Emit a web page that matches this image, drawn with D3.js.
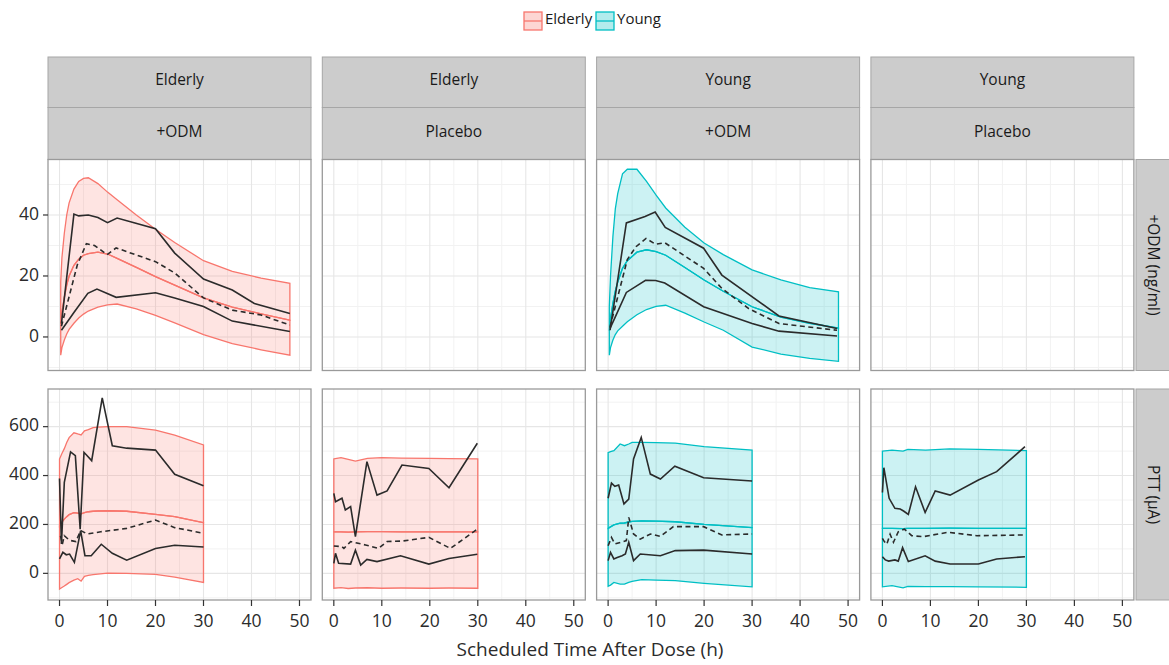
<!DOCTYPE html>
<html>
<head>
<meta charset="utf-8">
<script src="https://cdn.jsdelivr.net/npm/d3@7"></script>
<style>
  body { margin: 0; background: #fff; }
  text { font-family: "Open Sans", sans-serif; }
</style>
</head>
<body>
<svg width="1169" height="665"></svg>
<script>
// columns of the facet grid: group / treatment, rows: measured quantity
const groups = ['Elderly', 'Elderly', 'Young', 'Young'];
const treatments = ['+ODM', 'Placebo', '+ODM', 'Placebo'];
const rowLabels = ['+ODM (ng/ml)', 'PTT (\u00b5A)'];
const xTicks = [0, 10, 20, 30, 40, 50];
const yTicksTop = [0, 20, 40];
const yTicksBot = [0, 200, 400, 600];

// prediction bands: [time, lower, median, upper]
const elderlyOdmBand = [
  [0.25, -6, 4, 18], [0.5, -3.5, 8, 26], [1, -1, 13, 34], [1.5, 1, 17, 40], [2, 2.5, 20, 44],
  [3, 4.5, 23.5, 48.5], [4, 6.2, 25.5, 51], [5, 7.5, 26.8, 52], [6, 8.5, 27.3, 52.2],
  [8, 9.8, 27.8, 50.3], [10, 10.5, 27.2, 47.5], [12, 10.8, 25.8, 45], [16, 9.2, 22.8, 40],
  [20, 7.1, 19.8, 35.3], [24, 4.6, 17, 31], [30, 0.8, 12.8, 25], [36, -2.2, 9.8, 21.5],
  [42, -4.2, 7.6, 19.3], [48, -6, 5.5, 17.6]
];
const youngOdmBand = [
  [0.25, -6, 2, 10], [0.5, -3.5, 6, 20], [1, -1, 11, 33], [1.5, 0.8, 15, 42], [2, 2, 18, 47],
  [3, 3.5, 22.5, 53.5], [4, 5, 25, 55], [6, 7.3, 27.8, 55], [8, 9, 28.6, 51],
  [10, 10, 28, 46.5], [12, 10.4, 26.8, 42.3], [16, 7.8, 22.8, 36], [20, 4.9, 18.7, 30.8],
  [24, 2.2, 15, 27], [30, -3.3, 9.9, 22], [36, -5.6, 6.5, 18.7], [42, -7, 4.5, 16.2],
  [48, -8, 2.9, 14.8]
];
const elderlyOdmPttBand = [
  [0, -64, 195, 468], [0.5, -58, 210, 490], [1, -52, 222, 510], [1.5, -45, 232, 535],
  [2, -38, 240, 555], [3, -28, 248, 575], [3.8, -22, 246, 570], [4.5, -32, 243, 566],
  [5.2, -12, 248, 583], [6, -8, 252, 588], [7, -5, 254, 596], [8, -3, 255, 598],
  [10, 1, 256, 600], [14, 0, 254, 600], [20, -4, 241, 586], [24, -15, 232, 565], [30, -37, 207, 525]
];
const elderlyPlaPttBand = [
  [0, -61, 170, 468], [1.5, -58, 170, 473], [3, -62, 169, 466], [4.5, -60, 170, 459],
  [7, -59, 171, 470], [10, -61, 171, 473], [14, -60, 170, 471], [20, -61, 170, 470],
  [24, -60, 170, 469], [30, -61, 170, 468]
];
const youngOdmPttBand = [
  [0, -53, 184, 494], [0.5, -48, 190, 498], [1.2, -37, 198, 502], [2.5, -44, 205, 529],
  [3.4, -44, 206, 522], [4.3, -37, 210, 529], [5, -33, 213, 536], [7, -26, 215, 536],
  [10, -28, 214, 535], [14, -30, 211, 533], [20, -41, 200, 518], [30, -55, 187, 504]
];
const youngPlaPttBand = [
  [0, -55, 184, 500], [2, -50, 184, 504], [4.3, -59, 183, 500], [5.3, -53, 184, 507],
  [9, -54, 184, 504], [14, -54, 185, 509], [20, -55, 184, 507], [30, -57, 184, 502]
];

// observed percentiles: [time, value]
const elderlyOdmHi = [[0.4, 4.4], [3, 40.3], [4, 39.7], [6, 40], [8, 39.2], [10, 37.5], [12, 39],
  [20, 35.5], [24, 27.5], [30, 19], [36, 15.4], [40.6, 11], [48, 7.7]];
const elderlyOdmMed = [[0.4, 3.5], [3.7, 23.6], [5.6, 30.6], [7.3, 30], [9.9, 27], [11.8, 29.2],
  [20, 24.7], [24, 21], [30, 12.8], [36, 8.8], [42, 7.2], [48, 3.9]];
const elderlyOdmLo = [[0.4, 2.2], [3, 8], [5.9, 14.3], [7.8, 15.7], [11.8, 13], [20, 14.5],
  [24, 12.8], [30, 10], [36, 5.2], [48, 1.8]];

const youngOdmHi = [[0.4, 2.2], [3.8, 37.4], [7.7, 39.5], [9.8, 41], [11.9, 35.9], [19.9, 29.1],
  [23.7, 20.3], [35.6, 6.9], [47.7, 2.8]];
const youngOdmMed = [[0.4, 3.3], [4, 25.4], [5.8, 29.6], [7.9, 32.3], [9.9, 30.4], [11.8, 30.9],
  [19.9, 22.5], [23.7, 15.9], [29.3, 9.3], [35.6, 4.4], [47.7, 2.2]];
const youngOdmLo = [[0.4, 2.8], [1.5, 6.6], [3.8, 14.6], [7.8, 18.6], [9.9, 18.5], [11.8, 17.7],
  [19.9, 9.9], [30, 4.4], [35.6, 1.9], [47.7, 0.3]];

const elderlyOdmPttHi = [[0, 388], [0.4, 120], [1, 372], [2.3, 497], [3.3, 481], [4.3, 181],
  [5.1, 495], [6.7, 461], [8.9, 718], [11, 522], [14, 512], [20, 504], [24, 405], [30, 358]];
const elderlyOdmPttMed = [[0.2, 154], [0.6, 120], [1, 154], [1.8, 140], [2.4, 134], [3.4, 130],
  [4.4, 175], [5.8, 161], [8.6, 170], [14, 184], [20, 218], [24, 187], [30, 164]];
const elderlyOdmPttLo = [[0, 59], [0.7, 86], [1.4, 76], [2.1, 79], [3.1, 45], [4.4, 175], [5.3, 72],
  [6.6, 72], [8.7, 119], [11, 82], [14, 54], [20, 102], [24, 115], [30, 108]];

const elderlyPlaPttHi = [[0, 327], [0.35, 293], [1.7, 307], [2.4, 259], [3.5, 273], [4.5, 150],
  [6.9, 457], [9, 320], [11.1, 337], [14.2, 443], [19.8, 429], [24, 350], [29.9, 532]];
const elderlyPlaPttMed = [[0, 112], [1.7, 109], [2.1, 102], [3.5, 130], [6.6, 116], [9.3, 102],
  [11.1, 130], [14.2, 132], [19.8, 147], [24.3, 102], [29.9, 181]];
const elderlyPlaPttLo = [[0, 41], [0.35, 82], [1, 41], [3.5, 38], [4.5, 95], [5.6, 34], [6.9, 57],
  [9, 48], [13.9, 72], [19.8, 38], [24, 61], [29.9, 78]];

const youngOdmPttHi = [[0, 307], [0.7, 369], [1.4, 356], [2.2, 361], [3.3, 284], [4.3, 304],
  [5.3, 468], [6.9, 556], [8.8, 406], [10.9, 386], [13.9, 438], [19.9, 391], [30, 378]];
const youngOdmPttMed = [[0, 113], [0.7, 147], [1.4, 120], [2.6, 127], [3.8, 134], [4.3, 229],
  [5.3, 161], [6.7, 140], [8.8, 161], [10.9, 151], [13.6, 191], [19.9, 191], [23.7, 157], [30, 161]];
const youngOdmPttLo = [[0, 52], [0.5, 86], [1.2, 59], [1.9, 65], [2.9, 72], [3.6, 79], [4.3, 127],
  [5.3, 52], [6.7, 79], [10.9, 72], [14, 93], [19.9, 95], [30, 79]];

const youngPlaPttHi = [[0, 331], [0.3, 432], [1.4, 307], [2.6, 266], [3.7, 263], [4.4, 255],
  [5.4, 241], [6.9, 354], [8.9, 249], [11, 337], [14.1, 320], [20, 382], [23.8, 416], [29.7, 518]];
const youngPlaPttMed = [[0, 143], [0.4, 130], [0.9, 119], [1.6, 160], [2.3, 127], [3.3, 170],
  [4.6, 181], [6.1, 154], [8.5, 150], [13.7, 168], [19.7, 154], [29.7, 157]];
const youngPlaPttLo = [[0, 68], [0.6, 55], [1.3, 50], [2.6, 55], [3.3, 50], [4.2, 105], [5.4, 48],
  [8.9, 72], [11, 50], [14.1, 38], [20, 38], [23.8, 59], [29.7, 68]];

const panels = [
  { row: 0, col: 0, band: elderlyOdmBand, obs: [elderlyOdmHi, elderlyOdmMed, elderlyOdmLo] },
  { row: 0, col: 2, band: youngOdmBand, obs: [youngOdmHi, youngOdmMed, youngOdmLo] },
  { row: 1, col: 0, band: elderlyOdmPttBand, obs: [elderlyOdmPttHi, elderlyOdmPttMed, elderlyOdmPttLo] },
  { row: 1, col: 1, band: elderlyPlaPttBand, obs: [elderlyPlaPttHi, elderlyPlaPttMed, elderlyPlaPttLo] },
  { row: 1, col: 2, band: youngOdmPttBand, obs: [youngOdmPttHi, youngOdmPttMed, youngOdmPttLo] },
  { row: 1, col: 3, band: youngPlaPttBand, obs: [youngPlaPttHi, youngPlaPttMed, youngPlaPttLo] }
];

const svg = d3.select("svg");
const color = d3.scaleOrdinal().domain(['Elderly', 'Young']).range(['#f8766d', '#00bfc4']);

const colLeft = [48, 322.3, 596.6, 870.9], pw = 263;
const rowTop = [159.5, 389], ph = 211;

const x = d3.scaleLinear().domain([-2.4, 52.4]).range([0, pw]);
const y = [
  d3.scaleLinear().domain([-11, 58.2]).range([ph, 0]),
  d3.scaleLinear().domain([-109, 754]).range([ph, 0])
];
const yMinor = [[-10, 10, 30, 50], [-100, 100, 300, 500, 700]];
const yMajor = [yTicksTop, yTicksBot];
const xMinor = [5, 15, 25, 35, 45];

// strips on top
groups.forEach((g, c) => {
  [g, treatments[c]].forEach((label, k) => {
    const sy = k === 0 ? 57 : 107.5;
    svg.append('rect')
      .attr('x', colLeft[c]).attr('y', sy).attr('width', pw).attr('height', k === 0 ? 50.5 : 52)
      .attr('fill', '#cccccc').attr('stroke', '#a6a6a6').attr('stroke-width', 1);
    svg.append('text')
      .attr('x', colLeft[c] + pw / 2).attr('y', sy + (k === 0 ? 24 : 25))
      .attr('text-anchor', 'middle').attr('dominant-baseline', 'middle')
      .attr('font-size', 15.5).attr('fill', '#1a1a1a')
      .text(label);
  });
});

// strips on the right
rowLabels.forEach((label, r) => {
  svg.append('rect')
    .attr('x', 1136).attr('y', rowTop[r]).attr('width', 40).attr('height', ph)
    .attr('fill', '#cccccc').attr('stroke', '#a6a6a6');
  svg.append('text')
    .attr('transform', `translate(1152, ${rowTop[r] + ph / 2}) rotate(90)`)
    .attr('text-anchor', 'middle').attr('dominant-baseline', 'middle')
    .attr('font-size', 15.5).attr('fill', '#1a1a1a')
    .text(label);
});

// empty panels with grid
const cells = [];
[0, 1].forEach(r => colLeft.forEach((cx, c) => cells.push({ r, c })));

cells.forEach(({ r, c }) => {
  const g = svg.append('g').attr('transform', `translate(${colLeft[c]}, ${rowTop[r]})`);
  g.append('rect').attr('width', pw).attr('height', ph).attr('fill', '#fff');
  g.selectAll('.xmin').data(xMinor).enter().append('line')
    .attr('x1', d => x(d)).attr('x2', d => x(d)).attr('y1', 0).attr('y2', ph)
    .attr('stroke', '#f2f2f2').attr('stroke-width', 1);
  g.selectAll('.ymin').data(yMinor[r]).enter().append('line')
    .attr('x1', 0).attr('x2', pw).attr('y1', d => y[r](d)).attr('y2', d => y[r](d))
    .attr('stroke', '#f2f2f2').attr('stroke-width', 1);
  g.selectAll('.xmaj').data(xTicks).enter().append('line')
    .attr('x1', d => x(d)).attr('x2', d => x(d)).attr('y1', 0).attr('y2', ph)
    .attr('stroke', '#e6e6e6').attr('stroke-width', 1.1);
  g.selectAll('.ymaj').data(yMajor[r]).enter().append('line')
    .attr('x1', 0).attr('x2', pw).attr('y1', d => y[r](d)).attr('y2', d => y[r](d))
    .attr('stroke', '#e6e6e6').attr('stroke-width', 1.1);
});

// bands and observed lines
panels.forEach(p => {
  const g = svg.append('g').attr('transform', `translate(${colLeft[p.col]}, ${rowTop[p.row]})`);
  const yy = y[p.row];
  const col = color(groups[p.col]);

  const lowerHalf = d3.area().x(d => x(d[0])).y0(d => yy(d[1])).y1(d => yy(d[2]));
  const upperHalf = d3.area().x(d => x(d[0])).y0(d => yy(d[2])).y1(d => yy(d[3]));
  [lowerHalf, upperHalf].forEach(a => {
    g.append('path')
      .datum(p.band)
      .attr('d', a)
      .attr('fill', col).attr('fill-opacity', 0.2)
      .attr('stroke', col).attr('stroke-width', 1.3);
  });

  const line = d3.line().x(d => x(d[0])).y(d => yy(d[1]));
  p.obs.forEach((pts, i) => {
    g.append('path')
      .datum(pts)
      .attr('d', line)
      .attr('fill', 'none')
      .attr('stroke', '#2b2b2b')
      .attr('stroke-width', 1.6)
      .attr('stroke-dasharray', i === 1 ? '5,3.5' : null);
  });
});

// panel borders
cells.forEach(({ r, c }) => {
  svg.append('rect')
    .attr('x', colLeft[c]).attr('y', rowTop[r]).attr('width', pw).attr('height', ph)
    .attr('fill', 'none').attr('stroke', '#9a9a9a').attr('stroke-width', 1.3);
});

// y axes (left column only)
[0, 1].forEach(r => {
  const ax = svg.append('g').attr('transform', `translate(${colLeft[0]}, ${rowTop[r]})`);
  ax.selectAll('line.t').data(yMajor[r]).enter().append('line')
    .attr('x1', -5).attr('x2', 0).attr('y1', d => y[r](d)).attr('y2', d => y[r](d))
    .attr('stroke', '#333').attr('stroke-width', 1.2);
  ax.selectAll('text').data(yMajor[r]).enter().append('text')
    .attr('x', -9).attr('y', d => y[r](d))
    .attr('text-anchor', 'end').attr('dominant-baseline', 'middle')
    .attr('font-size', 17.5).attr('fill', '#2b2b2b')
    .text(d => d);
});

// x axes (bottom row)
colLeft.forEach(cx => {
  const ax = svg.append('g').attr('transform', `translate(${cx}, ${rowTop[1] + ph})`);
  ax.selectAll('line').data(xTicks).enter().append('line')
    .attr('x1', d => x(d)).attr('x2', d => x(d)).attr('y1', 0).attr('y2', 6)
    .attr('stroke', '#333').attr('stroke-width', 1.2);
  ax.selectAll('text').data(xTicks).enter().append('text')
    .attr('x', d => x(d)).attr('y', 22.5)
    .attr('text-anchor', 'middle').attr('dominant-baseline', 'middle')
    .attr('font-size', 17.5).attr('fill', '#2b2b2b')
    .text(d => d);
});

svg.append('text')
  .attr('x', 590).attr('y', 651)
  .attr('text-anchor', 'middle').attr('dominant-baseline', 'middle')
  .attr('font-size', 19).attr('fill', '#2b2b2b')
  .text('Scheduled Time After Dose (h)');

// legend
const legendX = [523, 595];
['Elderly', 'Young'].forEach((name, i) => {
  const lg = svg.append('g').attr('transform', `translate(${legendX[i]}, 11)`);
  lg.append('rect').attr('width', 20).attr('height', 20).attr('fill', '#fff');
  lg.append('rect').attr('x', 1).attr('y', 1).attr('width', 18).attr('height', 18)
    .attr('fill', color(name)).attr('fill-opacity', 0.3)
    .attr('stroke', color(name)).attr('stroke-width', 1.3);
  lg.append('line').attr('x1', 1).attr('x2', 19).attr('y1', 10).attr('y2', 10)
    .attr('stroke', color(name)).attr('stroke-width', 1.3);
  lg.append('text').attr('x', 22).attr('y', 8.5)
    .attr('dominant-baseline', 'middle').attr('font-size', 15).attr('fill', '#1a1a1a')
    .text(name);
});
</script>
</body>
</html>
